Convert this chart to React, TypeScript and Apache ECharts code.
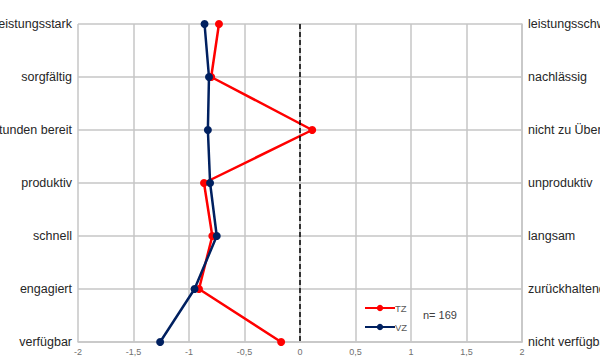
import React, { useEffect, useRef } from "react";
import * as echarts from "echarts";

const leftLabels = [
  "leistungsstark",
  "sorgfältig",
  "zu Überstunden bereit",
  "produktiv",
  "schnell",
  "engagiert",
  "verfügbar",
];
const rightLabels = [
  "leistungsschwach",
  "nachlässig",
  "nicht zu Überstunden bereit",
  "unproduktiv",
  "langsam",
  "zurückhaltend",
  "nicht verfügbar",
];
const tzValues = [-0.73, -0.8, 0.11, -0.865, -0.79, -0.91, -0.17];
const vzValues = [-0.86, -0.82, -0.83, -0.81, -0.75, -0.95, -1.26];
const seriesNames = ["TZ", "VZ"];
const noteText = "n= 169";

const FONT = "Liberation Sans";

export default function App() {
  const ref = useRef<HTMLDivElement>(null);
  useEffect(() => {
    if (!ref.current) return;
    const chart = echarts.init(ref.current, null, { renderer: "svg" });
    const gridColor = "#c6c6c6";
    chart.setOption({
      animation: false,
      backgroundColor: "#ffffff",
      grid: {
        left: 78,
        right: 78,
        top: 24,
        bottom: 22,
        containLabel: false,
        outerBoundsMode: "none",
      },
      legend: {
        orient: "vertical",
        left: 359,
        top: 298,
        itemWidth: 30,
        itemHeight: 8,
        itemGap: 9,
        data: seriesNames,
        textStyle: { fontFamily: FONT, fontSize: 9.5, color: "#595959", padding: [0, 0, 0, -5] },
      },
      graphic: [
        {
          type: "text",
          left: 423,
          top: 309,
          style: { text: noteText, fontFamily: FONT, fontSize: 11, fill: "#404040" },
        },
      ],
      xAxis: {
        type: "value",
        min: -2,
        max: 2,
        interval: 0.5,
        axisLine: { show: true, lineStyle: { color: gridColor, width: 1.5 } },
        axisTick: { show: false },
        splitLine: { show: true, lineStyle: { color: gridColor, width: 1.5 } },
        axisLabel: {
          fontFamily: FONT,
          fontSize: 9,
          color: "#6f6f6f",
          margin: 5,
          formatter: (v: number) => String(v).replace(".", ","),
        },
      },
      yAxis: [
        {
          type: "category",
          data: leftLabels,
          inverse: true,
          boundaryGap: false,
          position: "left",
          axisLine: { show: true, lineStyle: { color: gridColor, width: 1.5 } },
          axisTick: { show: false },
          splitLine: { show: true, lineStyle: { color: gridColor, width: 1.5 } },
          axisLabel: { fontFamily: FONT, fontSize: 12.5, color: "#262626", margin: 6 },
        },
        {
          type: "category",
          data: rightLabels,
          inverse: true,
          boundaryGap: false,
          position: "right",
          axisLine: { show: true, lineStyle: { color: gridColor, width: 1.5 } },
          axisTick: { show: false },
          splitLine: { show: false },
          axisLabel: { fontFamily: FONT, fontSize: 12.5, color: "#262626", margin: 6 },
        },
      ],
      series: [
        {
          name: seriesNames[0],
          type: "line",
          yAxisIndex: 0,
          data: tzValues.map((v, i) => [v, leftLabels[i]]),
          symbol: "circle",
          symbolSize: 8,
          lineStyle: { color: "#ff0000", width: 2.5 },
          itemStyle: { color: "#ff0000" },
          z: 3,
          markLine: {
            silent: true,
            symbol: "none",
            label: { show: false },
            lineStyle: { color: "#000000", type: [5, 3], width: 1.5 },
            data: [{ xAxis: 0 }],
          },
        },
        {
          name: seriesNames[1],
          type: "line",
          yAxisIndex: 0,
          data: vzValues.map((v, i) => [v, leftLabels[i]]),
          symbol: "circle",
          symbolSize: 8,
          lineStyle: { color: "#002060", width: 2.5 },
          itemStyle: { color: "#002060" },
          z: 4,
        },
      ],
    });
    return () => chart.dispose();
  }, []);
  return <div ref={ref} style={{ width: 600, height: 364, position: "absolute", left: 0, top: 0 }} />;
}
